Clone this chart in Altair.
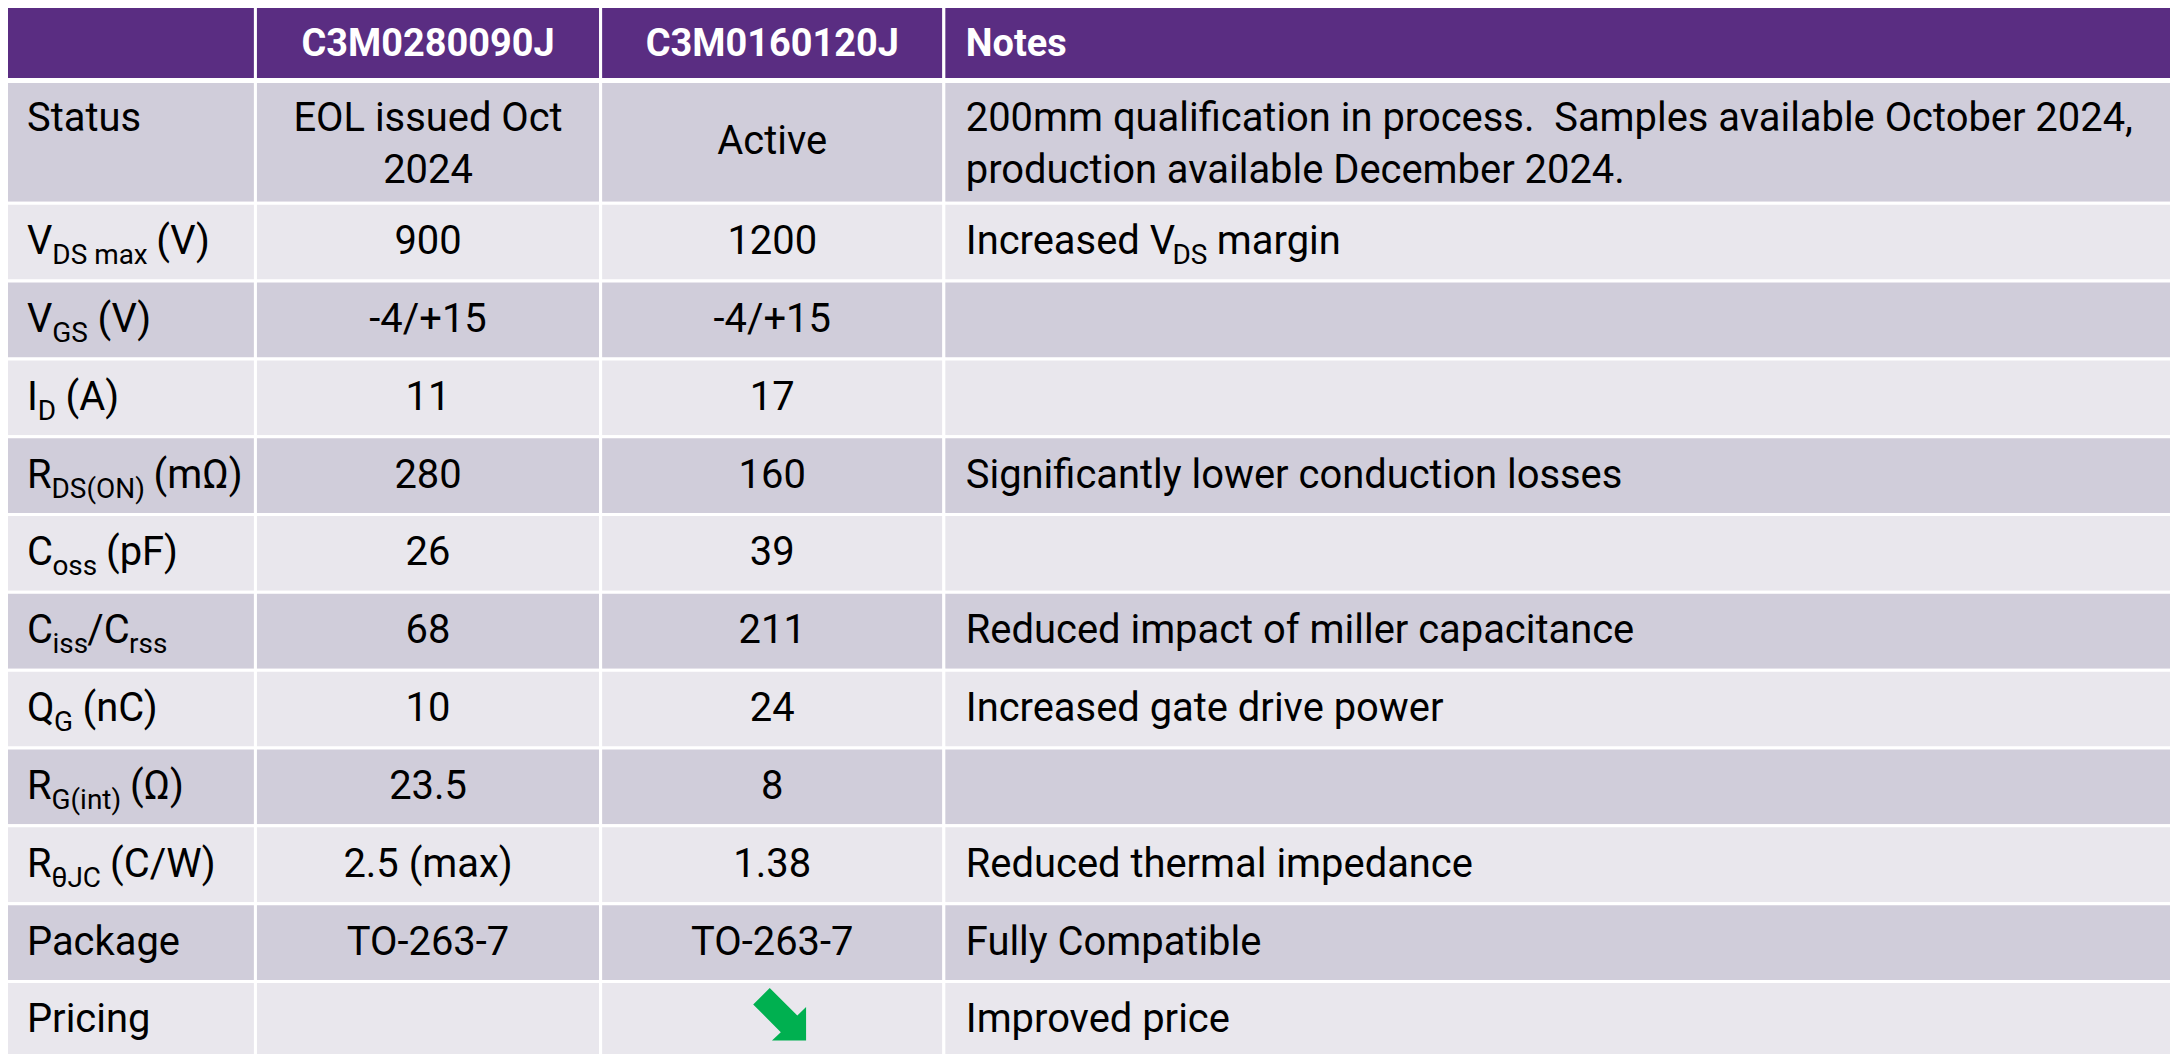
import re
import altair as alt
import pandas as pd

# ---------------- table content ----------------
header_labels = ["", "C3M0280090J", "C3M0160120J", "Notes"]

parameters = [
    "Status", "V_{DS max} (V)", "V_{GS} (V)", "I_{D} (A)", "R_{DS(ON)} (mΩ)",
    "C_{oss} (pF)", "C_{iss}/C_{rss}", "Q_{G} (nC)", "R_{G(int)} (Ω)",
    "R_{θJC} (C/W)", "Package", "Pricing",
]
c3m0280090j = [
    "EOL issued Oct\n2024", "900", "-4/+15", "11", "280", "26", "68", "10",
    "23.5", "2.5 (max)", "TO-263-7", "",
]
c3m0160120j = [
    "Active", "1200", "-4/+15", "17", "160", "39", "211", "24", "8", "1.38",
    "TO-263-7", "",
]
pricing_trend_c3m0160120j = ["", "", "", "", "", "", "", "", "", "", "", "down"]
notes = [
    "200mm qualification in process.  Samples available October 2024,\nproduction available December 2024.",
    "Increased V_{DS} margin", "", "", "Significantly lower conduction losses", "",
    "Reduced impact of miller capacitance", "Increased gate drive power", "",
    "Reduced thermal impedance", "Fully Compatible", "Improved price",
]

# ---------------- layout / style ----------------
FONT = "Roboto"
FS, FS_SUB, FS_HDR = 40, 28, 38
LINE_H = 52
X0, Y0 = 7, 5
W, H = 2169, 1054
col_edges = [5.5, 256, 602, 946, 2176.5]
header_band = (3.5, 78.5)
first_row_band = (80.5, 202.5)
row_pitch = 78
label_x, notes_x = 27, 968
sub_drop = 10
baseline_shift = 12
block_shift = 2.5
hdr_baseline = 55
PURPLE, DARK, LIGHT = "#5A2D82", "#D0CDDA", "#E9E7ED"
ARROW_GREEN = "#00B050"
ARROW_PATH = ("M -0.095 -1.22 L 0.949 -0.18 L 1.28 -0.51 L 1.28 0.76 "
              "L -0.01 0.76 L 0.324 0.445 L -0.72 -0.6 Z")
NBSP = "\u00a0"

# approximate Roboto Regular advance widths (units per 2048 em)
ROBOTO_W = {
    " ": 507, NBSP: 507, "(": 699, ")": 712, "/": 842, "A": 1336, "C": 1307, "D": 1313,
    "F": 1137, "G": 1367, "I": 557, "J": 1132, "N": 1425, "O": 1386, "Q": 1386,
    "R": 1262, "S": 1217, "V": 1303, "W": 1778, "a": 1114, "c": 1071, "d": 1122,
    "e": 1059, "g": 1128, "i": 486, "m": 1754, "n": 1104, "o": 1141, "p": 1122,
    "r": 677, "s": 1031, "t": 654, "x": 991, "Ω": 1380, "θ": 1130,
}


def text_w(s, fs):
    return sum(ROBOTO_W.get(ch, 1100) for ch in s) / 2048 * fs


def pieces(s):
    out = []
    for m in re.finditer(r"_\{([^}]*)\}|[^_]+", s):
        if m.group(1) is not None:
            out.append((m.group(1), True))
        else:
            out.append((m.group(0), False))
    return out


def place_pieces(markup, x_start, base, out):
    """Lay out text runs with subscripts; the renderer trims edge spaces,
    so their width is applied as an offset instead."""
    cur = x_start
    for txt, sub in pieces(markup):
        fs = FS_SUB if sub else FS
        lead = txt[: len(txt) - len(txt.lstrip(" "))]
        body = txt.strip(" ").replace("  ", NBSP + " ")
        if body:
            out.append(dict(x=cur + text_w(lead, fs),
                            y=base + (sub_drop if sub else 0), text=body, size=fs))
        cur += text_w(txt, fs)


bands = [first_row_band] + [
    (first_row_band[1] + row_pitch * k, first_row_band[1] + row_pitch * (k + 1))
    for k in range(len(parameters) - 1)
]

rects, hdr_c, hdr_l, left, center, arrows = [], [], [], [], [], []

# header
for j, lab in enumerate(header_labels):
    rects.append(dict(x=col_edges[j], x2=col_edges[j + 1], y=header_band[0],
                      y2=header_band[1], fill=PURPLE))
    if not lab:
        continue
    if j == 3:
        hdr_l.append(dict(x=notes_x, y=hdr_baseline, text=lab))
    else:
        hdr_c.append(dict(x=(col_edges[j] + col_edges[j + 1]) / 2, y=hdr_baseline, text=lab))

# body
for i, (p, a, b, t, n) in enumerate(zip(parameters, c3m0280090j, c3m0160120j,
                                        pricing_trend_c3m0160120j, notes)):
    b0, b1 = bands[i]
    fill = DARK if i % 2 == 0 else LIGHT
    for j in range(4):
        rects.append(dict(x=col_edges[j], x2=col_edges[j + 1], y=b0, y2=b1, fill=fill))
    c = (b0 + b1) / 2
    nlines = max(s.count("\n") + 1 for s in (p, a, b, n))
    top_base = c + baseline_shift + (block_shift if nlines > 1 else 0) - (nlines - 1) * LINE_H / 2

    def cell_base(s):
        k = s.count("\n") + 1
        return c + baseline_shift + (block_shift if k > 1 else 0) - (k - 1) * LINE_H / 2

    # parameter label (aligned with the first line of the row)
    place_pieces(p, label_x, top_base, left)
    # values
    for j, s in ((1, a), (2, b)):
        if s:
            center.append(dict(x=(col_edges[j] + col_edges[j + 1]) / 2, y=cell_base(s), text=s))
    if t == "down":
        arrows.append(dict(x=(col_edges[2] + col_edges[3]) / 2, y=c))
    # notes
    if n:
        place_pieces(n, notes_x, cell_base(n), left)

XS = alt.Scale(domain=[X0, X0 + W], nice=False, zero=False)
YS = alt.Scale(domain=[Y0, Y0 + H], nice=False, zero=False, reverse=True)


def ex():
    return alt.X("x:Q", scale=XS, axis=None)


def ey():
    return alt.Y("y:Q", scale=YS, axis=None)


cells = alt.Chart(pd.DataFrame(rects)).mark_rect(stroke="white", strokeWidth=3).encode(
    x=ex(), x2="x2:Q", y=ey(), y2="y2:Q", fill=alt.Fill("fill:N", scale=None)
)

hdr_center = alt.Chart(pd.DataFrame(hdr_c)).mark_text(
    font=FONT, fontSize=FS_HDR, fontWeight="bold", color="white",
    align="center", baseline="alphabetic"
).encode(x=ex(), y=ey(), text="text:N")

hdr_left = alt.Chart(pd.DataFrame(hdr_l)).mark_text(
    font=FONT, fontSize=FS_HDR, fontWeight="bold", color="white",
    align="left", baseline="alphabetic"
).encode(x=ex(), y=ey(), text="text:N")

left_txt = alt.Chart(pd.DataFrame(left)).mark_text(
    font=FONT, color="black", align="left", baseline="alphabetic",
    lineBreak="\n", lineHeight=LINE_H
).encode(x=ex(), y=ey(), text="text:N", size=alt.Size("size:Q", scale=None))

center_txt = alt.Chart(pd.DataFrame(center)).mark_text(
    font=FONT, fontSize=FS, color="black", align="center", baseline="alphabetic",
    lineBreak="\n", lineHeight=LINE_H
).encode(x=ex(), y=ey(), text="text:N")

arrow = alt.Chart(pd.DataFrame(arrows)).mark_point(
    shape=ARROW_PATH, size=2809, filled=True, fill=ARROW_GREEN, opacity=1, strokeWidth=0
).encode(x=ex(), y=ey())

chart = alt.layer(cells, hdr_center, hdr_left, left_txt, center_txt, arrow).properties(
    width=W, height=H, autosize="none", background="white",
    padding={"top": -3, "left": -1, "right": 0, "bottom": 0},
).configure_view(stroke=None)

chart.save("out.html", embed_options={"renderer": "svg", "actions": False})
